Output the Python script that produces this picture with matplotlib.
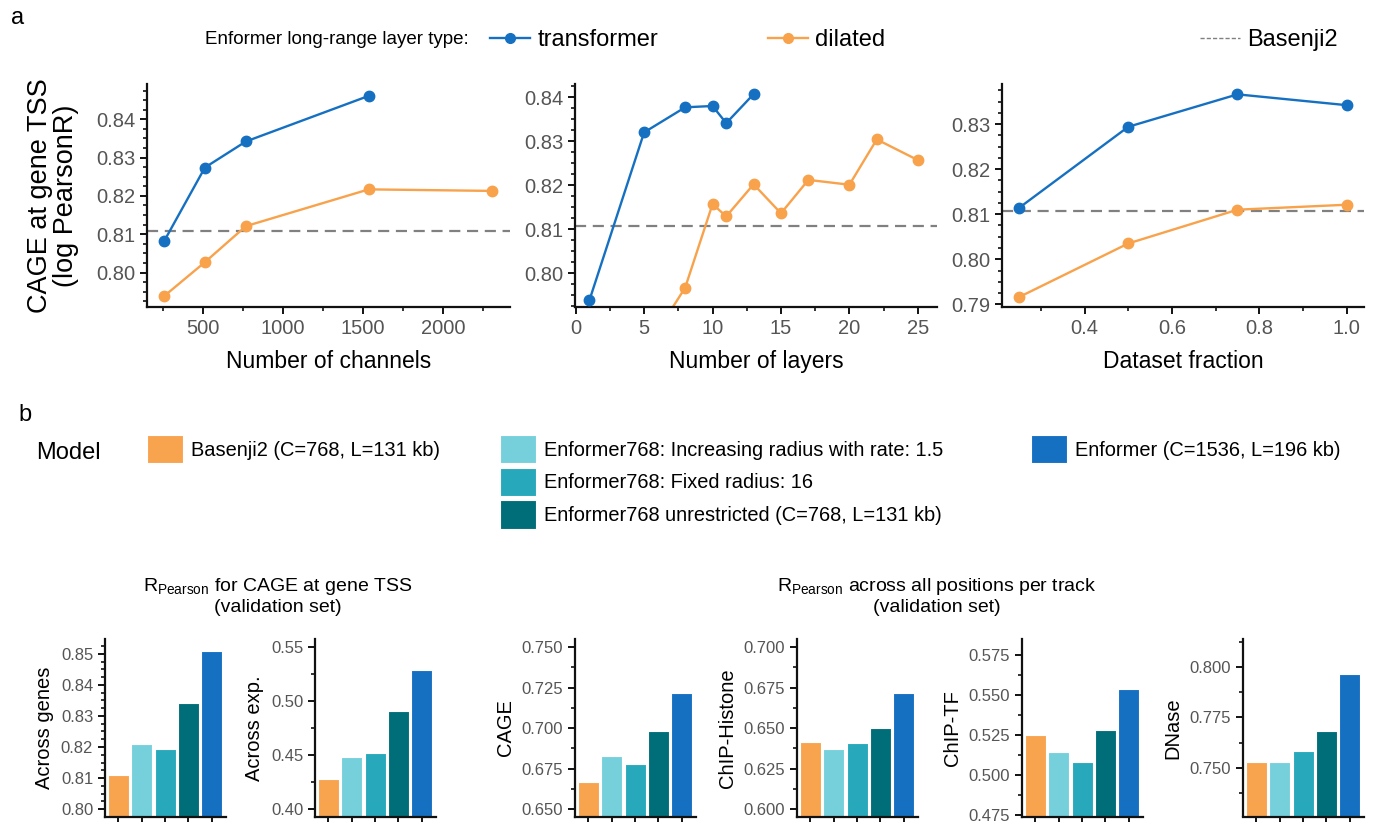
# ----------------- importar librerias ---------------------
import matplotlib
matplotlib.use("Agg")
import matplotlib.pyplot as plt
from matplotlib.ticker import MultipleLocator, FormatStrFormatter
from matplotlib.lines import Line2D
from matplotlib.patches import Patch

plt.rcParams['font.family'] = ['Liberation Sans', 'DejaVu Sans']
plt.rcParams['mathtext.fontset'] = 'custom'
plt.rcParams['mathtext.rm'] = 'Liberation Sans'
plt.rcParams['mathtext.it'] = 'Liberation Sans:italic'

# ---------------------- datos panel a ----------------------------
basenji2 = 0.8108

canales_tr = [256, 512, 768, 1536]
cage_canales_tr = [0.8081, 0.8274, 0.8342, 0.8461]
canales_dil = [256, 512, 768, 1536, 2304]
cage_canales_dil = [0.7938, 0.8027, 0.8121, 0.8217, 0.8213]

capas_tr = [1, 5, 8, 10, 11, 13]
cage_capas_tr = [0.7938, 0.8320, 0.8377, 0.8380, 0.8341, 0.8407]
capas_dil = [5, 8, 10, 11, 13, 15, 17, 20, 22, 25]
cage_capas_dil = [0.7820, 0.7967, 0.8157, 0.8129, 0.8202, 0.8136, 0.8212, 0.8201, 0.8304, 0.8257]

fraccion = [0.25, 0.5, 0.75, 1.0]
cage_fraccion_tr = [0.8114, 0.8294, 0.8366, 0.8342]
cage_fraccion_dil = [0.7916, 0.8035, 0.8110, 0.8121]

# ---------------------- datos panel b ----------------------------
modelos_col1 = ["Basenji2 (C=768, L=131 kb)"]
modelos_col2 = ["Enformer768: Increasing radius with rate: 1.5",
                "Enformer768: Fixed radius: 16",
                "Enformer768 unrestricted (C=768, L=131 kb)"]
modelos_col3 = ["Enformer (C=1536, L=196 kb)"]

across_genes = [0.8110, 0.8209, 0.8194, 0.8343, 0.8509]
across_exp = [0.4278, 0.4481, 0.4525, 0.4910, 0.5290]
cage = [0.6670, 0.6827, 0.6778, 0.6983, 0.7216]
chip_histone = [0.6415, 0.6372, 0.6407, 0.6498, 0.6716]
chip_tf = [0.5250, 0.5145, 0.5080, 0.5281, 0.5539]
dnase = [0.7531, 0.7531, 0.7583, 0.7680, 0.7967]

# colores
AZUL = '#1670c2'
NARANJA = '#f8a24c'
GRIS = '#808080'
colores_barras = ['#f8a44f', '#75d0dc', '#27a9bb', '#006e78', '#1570c2']

W, H = 1375, 822
fig = plt.figure(figsize=(W / 100, H / 100), dpi=100)


# convertir pixeles de la imagen a coordenadas de la figura
def caja(x0, y0, x1, y1):
    return [x0 / W, 1 - y1 / H, (x1 - x0) / W, (y1 - y0) / H]


# estilo comun de los ejes
def estilo(ax, tam_ticks):
    ax.spines['top'].set_visible(False)
    ax.spines['right'].set_visible(False)
    for s in ['left', 'bottom']:
        ax.spines[s].set_linewidth(1.6)
        ax.spines[s].set_color('#111111')
    ax.tick_params(which='major', direction='out', length=5, width=1.4,
                   color='#111111', labelcolor='#555555', labelsize=tam_ticks)
    ax.tick_params(which='minor', direction='out', length=3, width=1.2, color='#111111')


# -------------------- panel a: lineas --------------------------------
paneles_a = [
    (caja(147, 84, 510, 307), canales_tr, cage_canales_tr, canales_dil, cage_canales_dil,
     (150, 2419), (0.791, 0.8492), 500, 250, "Number of channels"),
    (caja(575, 84, 937, 307), capas_tr, cage_capas_tr, capas_dil, cage_capas_dil,
     (-0.05, 26.4), (0.7923, 0.843), 5, 2.5, "Number of layers"),
    (caja(1002, 84, 1364, 307), fraccion, cage_fraccion_tr, fraccion, cage_fraccion_dil,
     (0.211, 1.0396), (0.7894, 0.8389), 0.2, 0.1, "Dataset fraction"),
]

for i, (pos, xt, yt, xd, yd, xlim, ylim, mayor, menor, etiqueta) in enumerate(paneles_a):
    ax = fig.add_axes(pos)
    ax.axhline(basenji2, color=GRIS, lw=1.6, ls=(0, (5, 3)), zorder=1)
    ax.plot(xd, yd, '-o', color=NARANJA, lw=1.7, ms=7.5, zorder=2)
    ax.plot(xt, yt, '-o', color=AZUL, lw=1.7, ms=7.5, zorder=3)
    ax.set_xlim(*xlim)
    ax.set_ylim(*ylim)
    ax.xaxis.set_major_locator(MultipleLocator(mayor))
    ax.xaxis.set_minor_locator(MultipleLocator(menor))
    ax.yaxis.set_major_locator(MultipleLocator(0.01))
    ax.yaxis.set_minor_locator(MultipleLocator(0.0025))
    ax.yaxis.set_major_formatter(FormatStrFormatter('%.2f'))
    if i == 2:
        ax.xaxis.set_major_formatter(FormatStrFormatter('%.1f'))
    estilo(ax, 14.5)
    ax.set_xlabel(etiqueta, fontsize=16.5, labelpad=9)
    if i == 0:
        ax.set_ylabel("CAGE at gene TSS\n(log PearsonR)", fontsize=19.5, labelpad=12,
                      linespacing=1.0)

# leyenda superior
fig.text(11 / W, 1 - 18 / H, "a", fontsize=17, va='center')
fig.text(205 / W, 1 - 40 / H, "Enformer long-range layer type:", fontsize=13.5, va='center')

h_tr = Line2D([], [], color=AZUL, lw=1.7, marker='o', ms=7)
h_dil = Line2D([], [], color=NARANJA, lw=1.7, marker='o', ms=7)
h_bas = Line2D([], [], color=GRIS, lw=1.0, ls=(0, (3, 1.5)))
for h, txt, x in [(h_tr, "transformer", 490), (h_dil, "dilated", 768), (h_bas, "Basenji2", 1200)]:
    fig.legend(handles=[h], labels=[txt], loc='center left',
               bbox_to_anchor=(x / W, 1 - 40 / H), frameon=False, fontsize=17,
               handlelength=1.7, handletextpad=0.3, borderpad=0, borderaxespad=0)

# -------------------- panel b: leyenda de modelos --------------------------
fig.text(18 / W, 1 - 415 / H, "b", fontsize=17, va='center')
fig.text(36 / W, 1 - 453 / H, "Model", fontsize=17, va='center')

columnas = [(modelos_col1, colores_barras[0:1], 147),
            (modelos_col2, colores_barras[1:4], 500),
            (modelos_col3, colores_barras[4:5], 1031)]
for nombres, cols, x in columnas:
    handles = [Patch(facecolor=c, edgecolor='white', lw=0.8) for c in cols]
    fig.legend(handles=handles, labels=nombres, loc='upper left',
               bbox_to_anchor=(x / W, 1 - 435 / H), frameon=False, fontsize=14.4,
               handlelength=1.8, handleheight=1.8, handletextpad=0.4,
               labelspacing=0.22, borderpad=0, borderaxespad=0)

# subtitulos
fig.text(278 / W, 1 - 586 / H, r"R$_{\mathrm{Pearson}}$ for CAGE at gene TSS",
         fontsize=14, ha='center', va='center')
fig.text(278 / W, 1 - 607 / H, "(validation set)", fontsize=14, ha='center', va='center')
fig.text(937 / W, 1 - 586 / H, r"R$_{\mathrm{Pearson}}$ across all positions per track",
         fontsize=14, ha='center', va='center')
fig.text(937 / W, 1 - 607 / H, "(validation set)", fontsize=14, ha='center', va='center')

# -------------------- panel b: barras --------------------------------
paneles_b = [
    (105, across_genes, "Across genes", (0.7976, 0.8548), 0.01, 0.0025, '%.2f'),
    (315, across_exp, "Across exp.", (0.3932, 0.5577), 0.05, 0.025, '%.2f'),
    (575, cage, "CAGE", (0.6454, 0.7551), 0.025, 0.0125, '%.3f'),
    (797, chip_histone, "ChIP-Histone", (0.5954, 0.7051), 0.025, 0.0125, '%.3f'),
    (1022, chip_tf, "ChIP-TF", (0.474, 0.5849), 0.025, 0.0125, '%.3f'),
    (1243, dnase, "DNase", (0.7259, 0.8138), 0.025, 0.0125, '%.3f'),
]

for x0, valores, etiqueta, ylim, mayor, menor, fmt in paneles_b:
    ax = fig.add_axes(caja(x0, 639, x0 + 121, 816.5))
    ax.bar(range(len(valores)), valores, width=0.9, color=colores_barras,
           edgecolor='white', lw=0.8)
    ax.set_xlim(-0.58, 4.62)
    ax.set_ylim(*ylim)
    ax.set_xticks(range(len(valores)))
    ax.set_xticklabels([])
    ax.yaxis.set_major_locator(MultipleLocator(mayor))
    ax.yaxis.set_minor_locator(MultipleLocator(menor))
    ax.yaxis.set_major_formatter(FormatStrFormatter(fmt))
    estilo(ax, 12)
    ax.set_ylabel(etiqueta, fontsize=14.5, labelpad=5)

fig.savefig("out.png", dpi=100)
